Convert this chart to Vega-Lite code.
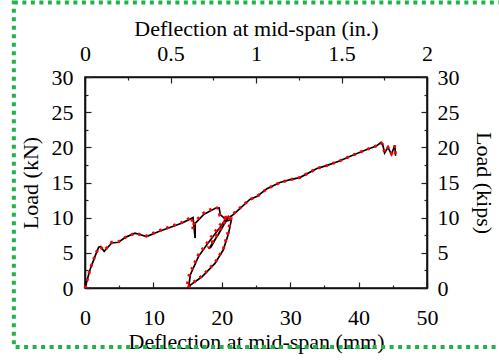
{
  "$schema": "https://vega.github.io/schema/vega-lite/v6.json",
  "width": 342,
  "height": 211,
  "autosize": {"type": "none"},
  "padding": {"left": 85, "top": 77, "right": 72, "bottom": 72},
  "background": "white",
  "config": {
    "view": {"stroke": "#111111", "strokeWidth": 1.6},
    "axis": {
      "labelFont": "Liberation Serif",
      "titleFont": "Liberation Serif",
      "labelFontSize": 22,
      "titleFontSize": 22,
      "titleFontWeight": "normal",
      "labelColor": "black",
      "titleColor": "black",
      "tickColor": "#222222",
      "domainColor": "#111111",
      "domainWidth": 1.6,
      "tickWidth": 1.2,
      "grid": false,
      "labelOverlap": false,
      "labelFlush": false,
      "format": "~g"
    }
  },
  "datasets": {
    "exp": [
      {"mm": 0, "kN": 0, "o": 1}, {"mm": 0.73, "kN": 2.6, "o": 2}, {"mm": 1.5, "kN": 4.6, "o": 3},
      {"mm": 2.0, "kN": 5.8, "o": 4}, {"mm": 2.3, "kN": 5.9, "o": 5}, {"mm": 2.8, "kN": 5.2, "o": 6},
      {"mm": 3.9, "kN": 6.4, "o": 7}, {"mm": 4.9, "kN": 6.5, "o": 8}, {"mm": 5.9, "kN": 7.2, "o": 9},
      {"mm": 7.3, "kN": 7.8, "o": 10}, {"mm": 8.0, "kN": 7.6, "o": 11}, {"mm": 9.0, "kN": 7.3, "o": 12},
      {"mm": 10.7, "kN": 8.0, "o": 13}, {"mm": 12.4, "kN": 8.6, "o": 14}, {"mm": 14.1, "kN": 9.2, "o": 15},
      {"mm": 15.8, "kN": 10.0, "o": 16}, {"mm": 16.1, "kN": 7.1, "o": 17}, {"mm": 16.1, "kN": 9.2, "o": 18},
      {"mm": 17.4, "kN": 10.5, "o": 19}, {"mm": 19.2, "kN": 11.4, "o": 20}, {"mm": 19.6, "kN": 11.4, "o": 21},
      {"mm": 19.8, "kN": 10.4, "o": 22}, {"mm": 20.4, "kN": 9.9, "o": 23}, {"mm": 21.0, "kN": 10.1, "o": 24},
      {"mm": 20.5, "kN": 9.7, "o": 25}, {"mm": 19.5, "kN": 8.3, "o": 26}, {"mm": 18.0, "kN": 6.4, "o": 27},
      {"mm": 16.6, "kN": 4.5, "o": 28}, {"mm": 15.4, "kN": 1.9, "o": 29}, {"mm": 15.2, "kN": 0.4, "o": 30},
      {"mm": 15.1, "kN": 0, "o": 31}, {"mm": 15.4, "kN": 0.4, "o": 32}, {"mm": 17.1, "kN": 1.6, "o": 33},
      {"mm": 19.0, "kN": 3.5, "o": 34}, {"mm": 20.2, "kN": 5.4, "o": 35}, {"mm": 21.0, "kN": 7.8, "o": 36},
      {"mm": 21.4, "kN": 9.7, "o": 37}, {"mm": 20.6, "kN": 9.5, "o": 38}, {"mm": 19.5, "kN": 7.6, "o": 39},
      {"mm": 18.1, "kN": 5.6, "o": 40}, {"mm": 18.4, "kN": 5.8, "o": 41}, {"mm": 19.8, "kN": 8.2, "o": 42},
      {"mm": 20.9, "kN": 9.9, "o": 43}, {"mm": 21.5, "kN": 10.3, "o": 44}, {"mm": 22.2, "kN": 10.9, "o": 45},
      {"mm": 24.1, "kN": 12.6, "o": 46}, {"mm": 25.1, "kN": 13.0, "o": 47}, {"mm": 26.6, "kN": 14.1, "o": 48},
      {"mm": 28.5, "kN": 15.0, "o": 49}, {"mm": 30.0, "kN": 15.4, "o": 50}, {"mm": 31.4, "kN": 15.7, "o": 51},
      {"mm": 33.9, "kN": 17.0, "o": 52}, {"mm": 35.3, "kN": 17.4, "o": 53}, {"mm": 37.3, "kN": 18.1, "o": 54},
      {"mm": 38.7, "kN": 18.7, "o": 55}, {"mm": 41.2, "kN": 19.7, "o": 56}, {"mm": 42.6, "kN": 20.2, "o": 57},
      {"mm": 43.3, "kN": 20.7, "o": 58}, {"mm": 43.5, "kN": 20.5, "o": 59}, {"mm": 43.8, "kN": 19.2, "o": 60},
      {"mm": 44.3, "kN": 20.0, "o": 61}, {"mm": 44.8, "kN": 19.0, "o": 62}, {"mm": 45.3, "kN": 20.3, "o": 63},
      {"mm": 45.4, "kN": 18.8, "o": 64}
    ],
    "fe": [
      {"mm": 0, "kN": 0, "o": 1}, {"mm": 0.75, "kN": 2.7, "o": 2}, {"mm": 1.5, "kN": 4.7, "o": 3},
      {"mm": 2.0, "kN": 5.8, "o": 4}, {"mm": 2.3, "kN": 5.8, "o": 5}, {"mm": 2.8, "kN": 5.3, "o": 6},
      {"mm": 3.9, "kN": 6.5, "o": 7}, {"mm": 4.9, "kN": 6.6, "o": 8}, {"mm": 5.9, "kN": 7.2, "o": 9},
      {"mm": 7.3, "kN": 7.8, "o": 10}, {"mm": 8.0, "kN": 7.6, "o": 11}, {"mm": 9.0, "kN": 7.4, "o": 12},
      {"mm": 10.7, "kN": 8.1, "o": 13}, {"mm": 12.4, "kN": 8.7, "o": 14}, {"mm": 14.1, "kN": 9.3, "o": 15},
      {"mm": 15.6, "kN": 10.1, "o": 16}, {"mm": 15.8, "kN": 8.3, "o": 17}, {"mm": 16.0, "kN": 9.4, "o": 18},
      {"mm": 17.4, "kN": 10.7, "o": 19}, {"mm": 19.1, "kN": 11.5, "o": 20}, {"mm": 19.5, "kN": 11.3, "o": 21},
      {"mm": 19.7, "kN": 10.3, "o": 22}, {"mm": 20.4, "kN": 10.0, "o": 23}, {"mm": 21.0, "kN": 10.2, "o": 24},
      {"mm": 20.4, "kN": 9.8, "o": 25}, {"mm": 19.3, "kN": 8.4, "o": 26}, {"mm": 17.9, "kN": 6.5, "o": 27},
      {"mm": 16.5, "kN": 4.6, "o": 28}, {"mm": 15.3, "kN": 2.0, "o": 29}, {"mm": 15.0, "kN": 1.2, "o": 30},
      {"mm": 15.0, "kN": 0, "o": 31}, {"mm": 15.4, "kN": 0.5, "o": 32}, {"mm": 17.1, "kN": 1.7, "o": 33},
      {"mm": 19.0, "kN": 3.6, "o": 34}, {"mm": 20.2, "kN": 5.5, "o": 35}, {"mm": 20.9, "kN": 7.9, "o": 36},
      {"mm": 21.3, "kN": 9.8, "o": 37}, {"mm": 20.5, "kN": 9.6, "o": 38}, {"mm": 19.4, "kN": 7.7, "o": 39},
      {"mm": 18.0, "kN": 5.7, "o": 40}, {"mm": 18.3, "kN": 5.9, "o": 41}, {"mm": 19.7, "kN": 8.3, "o": 42},
      {"mm": 20.8, "kN": 10.0, "o": 43}, {"mm": 21.5, "kN": 10.4, "o": 44}, {"mm": 22.2, "kN": 11.0, "o": 45},
      {"mm": 24.1, "kN": 12.6, "o": 46}, {"mm": 25.1, "kN": 13.0, "o": 47}, {"mm": 26.6, "kN": 14.1, "o": 48},
      {"mm": 28.5, "kN": 15.0, "o": 49}, {"mm": 30.0, "kN": 15.4, "o": 50}, {"mm": 31.4, "kN": 15.7, "o": 51},
      {"mm": 33.9, "kN": 17.0, "o": 52}, {"mm": 35.3, "kN": 17.4, "o": 53}, {"mm": 37.3, "kN": 18.1, "o": 54},
      {"mm": 38.7, "kN": 18.7, "o": 55}, {"mm": 41.2, "kN": 19.7, "o": 56}, {"mm": 42.6, "kN": 20.2, "o": 57},
      {"mm": 43.3, "kN": 20.6, "o": 58}, {"mm": 43.5, "kN": 20.4, "o": 59}, {"mm": 43.8, "kN": 19.3, "o": 60},
      {"mm": 44.3, "kN": 20.0, "o": 61}, {"mm": 44.8, "kN": 19.1, "o": 62}, {"mm": 45.3, "kN": 20.2, "o": 63},
      {"mm": 45.4, "kN": 18.9, "o": 64}
    ],
    "top": [{"inch": 0, "kips": 0}, {"inch": 2, "kips": 30}]
  },
  "layer": [
    {
      "data": {"values": [{}]},
      "mark": {"type": "rect", "fill": "transparent", "stroke": "#22b24c", "strokeWidth": 4, "strokeDash": [4, 4.5], "clip": false},
      "encoding": {
        "x": {"datum": -10.4, "type": "quantitative", "scale": {"domain": [0, 50], "nice": false, "zero": false}, "axis": null},
        "x2": {"datum": 63},
        "y": {"datum": 40.6, "type": "quantitative", "scale": {"domain": [0, 30], "nice": false}, "axis": null},
        "y2": {"datum": -8.4}
      }
    },
    {
      "encoding": {
        "x": {
          "field": "mm", "type": "quantitative",
          "scale": {"domain": [0, 50], "nice": false, "zero": false},
          "axis": {
            "orient": "bottom",
            "title": "Deflection at mid-span  (mm)",
            "values": [0, 5, 10, 15, 20, 25, 30, 35, 40, 45, 50],
            "labelExpr": "datum.value % 10 === 0 ? datum.label : ''",
            "tickSize": {"condition": {"test": "datum.value % 10 === 0", "value": -6}, "value": -3},
            "labelPadding": 25,
            "titlePadding": 0
          }
        },
        "y": {
          "field": "kN", "type": "quantitative",
          "scale": {"domain": [0, 30], "nice": false},
          "axis": {
            "orient": "left",
            "title": "Load (kN)",
            "values": [0, 2.5, 5, 7.5, 10, 12.5, 15, 17.5, 20, 22.5, 25, 27.5, 30],
            "labelExpr": "datum.value % 5 === 0 ? datum.label : ''",
            "tickSize": {"condition": {"test": "datum.value % 5 === 0", "value": -6}, "value": -3},
            "labelPadding": 18,
            "titlePadding": 9
          }
        },
        "order": {"field": "o", "type": "quantitative"}
      },
      "layer": [
        {
          "data": {"name": "exp"},
          "mark": {"type": "line", "color": "black", "strokeWidth": 1.7}
        },
        {
          "data": {"name": "fe"},
          "mark": {"type": "line", "color": "#ff0000", "strokeWidth": 3, "strokeDash": [2.5, 5]}
        }
      ]
    },
    {
      "data": {"name": "top"},
      "mark": {"type": "point", "opacity": 0},
      "encoding": {
        "x": {
          "field": "inch", "type": "quantitative",
          "scale": {"domain": [0, 2], "nice": false, "zero": false},
          "axis": {
            "orient": "top",
            "title": "Deflection at mid-span (in.)",
            "values": [0, 0.25, 0.5, 0.75, 1, 1.25, 1.5, 1.75, 2],
            "labelExpr": "datum.value % 0.5 === 0 ? datum.label : ''",
            "tickSize": {"condition": {"test": "datum.value % 0.5 === 0", "value": -6}, "value": -3},
            "labelPadding": 18,
            "titlePadding": -1
          }
        },
        "y": {
          "field": "kips", "type": "quantitative",
          "scale": {"domain": [0, 30], "nice": false},
          "axis": {
            "orient": "right",
            "title": "Load (kips)",
            "values": [0, 2.5, 5, 7.5, 10, 12.5, 15, 17.5, 20, 22.5, 25, 27.5, 30],
            "labelExpr": "datum.value % 5 === 0 ? datum.label : ''",
            "tickSize": {"condition": {"test": "datum.value % 5 === 0", "value": -6}, "value": -3},
            "labelPadding": 16,
            "titlePadding": 12
          }
        }
      }
    }
  ],
  "resolve": {"scale": {"x": "independent", "y": "independent"}}
}
